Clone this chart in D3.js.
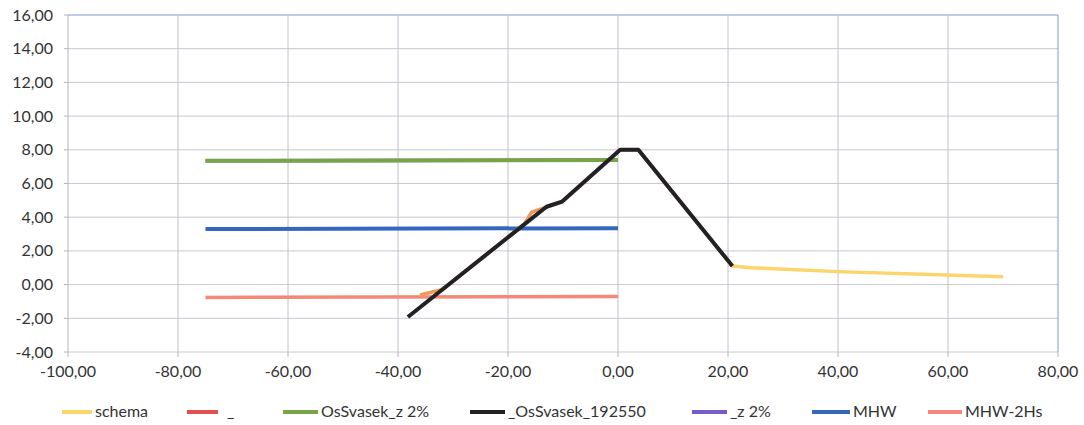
<!DOCTYPE html>
<html><head><meta charset="utf-8">
<script src="https://cdn.jsdelivr.net/npm/d3@7"></script>
<style>body{margin:0;background:#fff;}svg{display:block;font-family:Lato,"Open Sans",sans-serif;}</style>
</head><body><svg id="c" width="1084" height="425"></svg>
<script>
const xTicks = [-100,-80,-60,-40,-20,0,20,40,60,80];
const yTicks = [-4,-2,0,2,4,6,8,10,12,14,16];
const seriesNames = ["schema","_","OsSvasek_z 2%","_OsSvasek_192550","_z 2%","MHW","MHW-2Hs"];
const seriesColors = ["#fcd46c","#e05050","#78a448","#222226","#7a5cc8","#3566c0","#f58878"];
const schemaX = [-36,-32,-17,-15.7,-13,-10.2,0.4,3.7,20.8,24,40,70];
const schemaY = [-0.62,-0.3,3.6,4.3,4.6,4.9,8.0,8.0,1.1,1.0,0.77,0.47];
const redX = [-36,-32,-17,-15.7,-13,-10.2,0.4,3.7,20.8];
const redY = [-0.62,-0.3,3.6,4.3,4.6,4.9,8.0,8.0,1.1];
const profX = [-38.2,-13,-10.2,0.4,3.7,20.8];
const profY = [-1.92,4.62,4.92,8.0,8.0,1.1];
const greenX = [-75,0], greenY = [7.35,7.4];
const purpleX = [-75,0], purpleY = [7.35,7.4];
const mhwX = [-75,0], mhwY = [3.3,3.35];
const mhw2X = [-75,0], mhw2Y = [-0.76,-0.71];

const svg = d3.select("#c");
const L=68,R=1058,T=15,B=352;
const x = d3.scaleLinear().domain([-100,80]).range([L,R]);
const y = d3.scaleLinear().domain([-4,16]).range([B,T]);
const fmt = v => d3.format(".2f")(v).replace(".",",").replace("\u2212","-");

// grid
svg.append("g").selectAll("line").data(yTicks).join("line")
  .attr("x1",L).attr("x2",R).attr("y1",d=>y(d)).attr("y2",d=>y(d))
  .attr("stroke",d=>d===16?"#7c9ad0":"#c8c9d2").attr("stroke-width",1);
svg.append("g").selectAll("line").data(xTicks).join("line")
  .attr("y1",T).attr("y2",B).attr("x1",d=>x(d)).attr("x2",d=>x(d))
  .attr("stroke",d=>d===80?"#7c9ad0":(d===-100?"#b4b4c0":"#c0c0cc")).attr("stroke-width",1);
// tick marks
svg.append("g").selectAll("line").data(yTicks).join("line")
  .attr("x1",L-4).attr("x2",L).attr("y1",d=>y(d)).attr("y2",d=>y(d)).attr("stroke","#b4b4c0");
svg.append("g").selectAll("line").data(xTicks).join("line")
  .attr("y1",B).attr("y2",B+5).attr("x1",d=>x(d)).attr("x2",d=>x(d)).attr("stroke","#b4b4c0");

// labels
svg.append("g").selectAll("text").data(yTicks).join("text")
  .attr("x",L-15).attr("y",d=>y(d)+5.5).attr("text-anchor","end")
  .attr("font-size",16).attr("fill","#333").text(fmt);
svg.append("g").selectAll("text").data(xTicks).join("text")
  .attr("x",d=>x(d)).attr("y",B+25).attr("text-anchor","middle")
  .attr("font-size",16).attr("fill","#333").text(fmt);

const line = d3.line().x(d=>x(d[0])).y(d=>y(d[1]));
const zip = (a,b)=>a.map((v,i)=>[v,b[i]]);
function draw(xs,ys,color,w,op){
  svg.append("path").datum(zip(xs,ys)).attr("d",line).attr("fill","none")
    .attr("stroke",color).attr("stroke-width",w).attr("stroke-linejoin","round")
    .attr("stroke-opacity",op||1);
}
draw(mhw2X,mhw2Y,seriesColors[6],3.5);
draw(mhwX,mhwY,seriesColors[5],4);
draw(purpleX,purpleY,seriesColors[4],3.5);
draw(greenX,greenY,seriesColors[2],4);
draw(schemaX,schemaY,seriesColors[0],3.5);
draw(redX,redY,seriesColors[1],3.5,0.45);
draw(profX,profY,seriesColors[3],4);

// legend
const legX = [62,187,283,470,692,812,928];
const legW = [30,31,35,35,35,38,34];
const lg = svg.append("g");
seriesNames.forEach((n,i)=>{
  lg.append("line").attr("x1",legX[i]).attr("x2",legX[i]+legW[i]).attr("y1",412).attr("y2",412)
    .attr("stroke",seriesColors[i]).attr("stroke-width",4);
  lg.append("text").attr("x",legX[i]+legW[i]+(i===1?9:3)).attr("y",417).attr("font-size",16)
    .attr("fill","#333").text(n);
});
</script></body></html>
